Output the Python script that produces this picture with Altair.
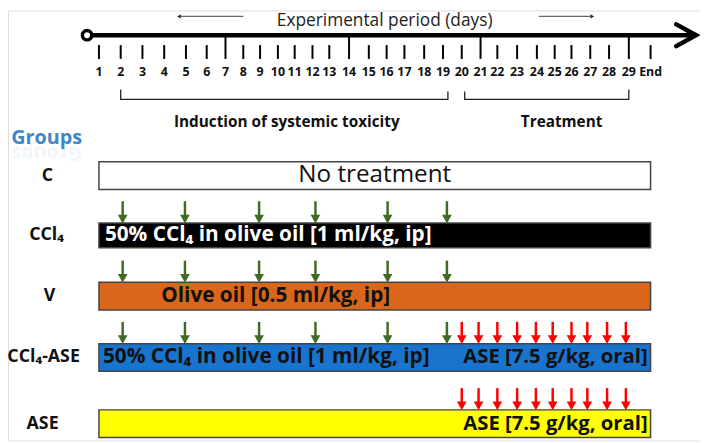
import altair as alt
import pandas as pd

FONT = "Open Sans"

# ---- timeline data ----
day_labels = [str(d) for d in range(1, 30)] + ["End"]
day_x = [100, 122, 144, 166, 188, 209, 228, 246, 263, 281, 298, 316, 333, 353,
         373, 391, 409, 429, 448, 467, 486, 503, 523, 543, 561, 578, 597, 616, 636, 658]
long_ticks = ["7", "14", "21", "29"]

# ---- groups ----
groups = ["C", "CCl₄", "V", "CCl₄-ASE", "ASE"]
group_label_x = [48, 47, 50, 44, 43]
bar_top = [161, 223, 283, 345, 412]
bar_bottom = [189, 248, 311, 373, 440]
bar_fill = ["#ffffff", "#000000", "#d9661a", "#1874cd", "#ffff00"]
bar_start, bar_end = 100, 658

green_x = [124, 187, 262, 319, 392, 452]
green_rows = [1, 2, 3]
red_x = [467, 484, 503, 523, 542, 559, 578, 594, 614, 633]
red_rows = [3, 4]


def xq(f):
    return alt.X(f + ":Q", scale=alt.Scale(domain=[8, 708], nice=False, zero=False), axis=None)


def yq(f):
    return alt.Y(f + ":Q", scale=alt.Scale(domain=[8, 443], nice=False, zero=False, reverse=True), axis=None)


layers = []

# main axis line
line_df = pd.DataFrame({"x": [93], "x2": [702], "y": [33]})
layers.append(alt.Chart(line_df).mark_rule(color="black", strokeWidth=4.5).encode(
    x=xq("x"), x2="x2:Q", y=yq("y")))
# arrow head chevron
chev = pd.DataFrame({"x": [684, 704, 684], "y": [22, 33, 44], "o": [0, 1, 2]})
layers.append(alt.Chart(chev).mark_line(color="black", strokeWidth=4.5, strokeCap="round",
                                        strokeJoin="miter").encode(
    x=xq("x"), y=yq("y"), order="o:Q"))
# start circle
circ = pd.DataFrame({"x": [88], "y": [33]})
layers.append(alt.Chart(circ).mark_point(shape="circle", size=90, filled=True, fill="white",
                                         stroke="black", strokeWidth=3.5, opacity=1).encode(
    x=xq("x"), y=yq("y")))

# ticks
tick_df = pd.DataFrame({"x": day_x, "label": day_labels})
tick_df["y"] = [33 if l in long_ticks else 43 for l in day_labels]
tick_df["y2"] = 57
layers.append(alt.Chart(tick_df).mark_rule(color="black", strokeWidth=2).encode(
    x=xq("x"), y=yq("y"), y2="y2:Q"))
tick_df["ly"] = 70
layers.append(alt.Chart(tick_df).mark_text(font=FONT, fontSize=12.5, fontWeight="bold",
                                           color="#111", baseline="middle").encode(
    x=xq("x"), y=yq("ly"), text="label:N"))

# title and small arrows
title_df = pd.DataFrame({"x": [389], "y": [19], "t": ["Experimental period (days)"]})
layers.append(alt.Chart(title_df).mark_text(font=FONT, fontSize=17.5, color="#222",
                                            baseline="middle").encode(
    x=xq("x"), y=yq("y"), text="t:N"))
sarr = pd.DataFrame({"x": [246, 545], "x2": [183, 597], "y": [14, 14]})
layers.append(alt.Chart(sarr).mark_rule(color="#666", strokeWidth=1.2).encode(
    x=xq("x"), x2="x2:Q", y=yq("y")))
sheads = pd.DataFrame({"x": [181, 599], "y": [14, 14], "s": ["triangle-left", "triangle-right"]})
layers.append(alt.Chart(sheads).mark_point(filled=True, color="#222", size=18, opacity=1).encode(
    x=xq("x"), y=yq("y"), shape=alt.Shape("s:N", scale=None)))

# brackets
brk = pd.DataFrame({
    "x": [122, 122, 453, 453, 470, 470, 636, 636],
    "y": [88, 98, 98, 90, 90, 98, 98, 88],
    "o": [0, 1, 2, 3, 0, 1, 2, 3],
    "g": ["a"] * 4 + ["b"] * 4,
})
layers.append(alt.Chart(brk).mark_line(color="#222", strokeWidth=1.3).encode(
    x=xq("x"), y=yq("y"), order="o:Q", detail="g:N"))
blab = pd.DataFrame({"x": [290, 568], "y": [121, 121],
                     "t": ["Induction of systemic toxicity", "Treatment"]})
layers.append(alt.Chart(blab).mark_text(font=FONT, fontSize=15.5, fontWeight="bold", color="#111",
                                        baseline="middle").encode(
    x=xq("x"), y=yq("y"), text="t:N"))

# Groups heading
gh = pd.DataFrame({"x": [47], "y": [137], "t": ["Groups"]})
layers.append(alt.Chart(gh).mark_text(font=FONT, fontSize=20, fontWeight="bold", color="#3f86c8",
                                      baseline="middle").encode(
    x=xq("x"), y=yq("y"), text="t:N"))
gh2 = pd.DataFrame({"x": [47], "y": [152], "t": ["Groups"]})
layers.append(alt.Chart(gh2).mark_text(font=FONT, fontSize=20, fontWeight="bold", color="#3f86c8",
                                       baseline="middle", opacity=0.07, angle=180).encode(
    x=xq("x"), y=yq("y"), text="t:N"))

# bars
bars = pd.DataFrame({"g": groups, "y": bar_top, "y2": bar_bottom, "fill": bar_fill})
bars["x"] = bar_start
bars["x2"] = bar_end
layers.append(alt.Chart(bars).mark_rect(stroke="#444", strokeWidth=1.5).encode(
    x=xq("x"), x2="x2:Q", y=yq("y"), y2="y2:Q", fill=alt.Fill("fill:N", scale=None)))

# group labels
mid = [(a + b) / 2 for a, b in zip(bar_top, bar_bottom)]
gl = pd.DataFrame({"t": groups, "x": group_label_x, "y": mid})
layers.append(alt.Chart(gl).mark_text(font=FONT, fontSize=18, fontWeight="bold", color="#111",
                                      baseline="middle").encode(
    x=xq("x"), y=yq("y"), text="t:N"))

# bar texts
bt = pd.DataFrame({
    "t": ["50% CCl₄ in olive oil [1 ml/kg, ip]", "Olive oil [0.5 ml/kg, ip]",
          "50% CCl₄ in olive oil [1 ml/kg, ip]"],
    "x": [106, 163, 104],
    "y": [mid[1], mid[2], mid[3]],
    "c": ["#ffffff", "#111111", "#111111"],
})
layers.append(alt.Chart(bt).mark_text(font=FONT, fontSize=21, fontWeight="bold", align="left",
                                      baseline="middle").encode(
    x=xq("x"), y=yq("y"), text="t:N", color=alt.Color("c:N", scale=None)))
rt = pd.DataFrame({"t": ["ASE [7.5 g/kg, oral]"] * 2, "x": [655, 655], "y": [mid[3], mid[4]]})
layers.append(alt.Chart(rt).mark_text(font=FONT, fontSize=20.5, fontWeight="bold", align="right",
                                      baseline="middle", color="#111").encode(
    x=xq("x"), y=yq("y"), text="t:N"))
nt = pd.DataFrame({"t": ["No treatment"], "x": [379], "y": [mid[0]]})
layers.append(alt.Chart(nt).mark_text(font=FONT, fontSize=24.5, color="#111",
                                      baseline="middle").encode(
    x=xq("x"), y=yq("y"), text="t:N"))

# dose arrows
arrows = []
for r in green_rows:
    for xv in green_x:
        arrows.append({"x": xv, "top": bar_top[r] - 22, "bot": bar_top[r], "c": "#3f6b24"})
for r in red_rows:
    for xv in red_x:
        arrows.append({"x": xv, "top": bar_top[r] - 22, "bot": bar_top[r], "c": "#ff0000"})
arr = pd.DataFrame(arrows)
arr["shaft_end"] = arr["bot"] - 6
arr["head"] = arr["bot"] - 4
layers.append(alt.Chart(arr).mark_rule(strokeWidth=2.5).encode(
    x=xq("x"), y=yq("top"), y2="shaft_end:Q", color=alt.Color("c:N", scale=None)))
layers.append(alt.Chart(arr).mark_point(shape="M-1,-0.9L1,-0.9L0,0.9Z", size=95, filled=True,
                                        opacity=1).encode(
    x=xq("x"), y=yq("head"), color=alt.Color("c:N", scale=None)))

chart = alt.layer(*layers).properties(
    width=700, height=435, padding=0, autosize=alt.AutoSizeParams(type="none")
).configure_view(stroke=None).configure(background="white")

chart.save("out.html", embed_options={"renderer": "svg", "actions": False})
